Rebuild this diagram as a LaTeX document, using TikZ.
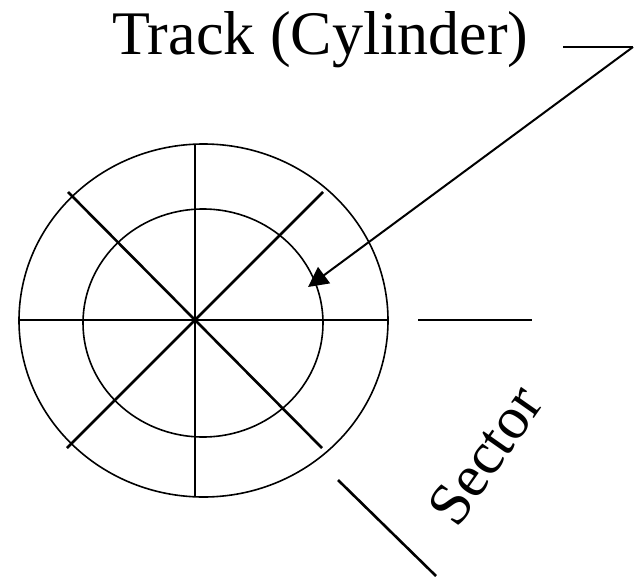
\documentclass[tikz,border=0pt]{standalone}
\usepackage{fontspec}
\setmainfont{Liberation Serif}
\usepackage{tikz}
\usetikzlibrary{arrows.meta, positioning}
\tikzset{
  disk/.style={line width=1.6pt},
  spoke/.style={line width=2.6pt},
  rule/.style={line width=1.6pt},
  txt/.style={inner sep=0pt, font=\fontsize{62}{70}\selectfont},
  pointer/.style={line width=2pt, -{Triangle[length=20pt,width=20pt]}}
}

\begin{document}
\begin{tikzpicture}[x=1pt,y=-1pt]
      \useasboundingbox (0,0) rectangle (634,578);
      \coordinate (c) at (195,320);
      % platter and one track
      \draw[disk] (203.5,320.5) ellipse [x radius=184.5pt, y radius=176.5pt];
      \draw[disk] (203,323) ellipse [x radius=120pt, y radius=114pt];
      \draw[disk] (19,320) -- (388,320);
      \draw[disk] (195,144) -- (195,497);
      \foreach \a/\b in {68/192, 323/192}{
        \draw[spoke] (\a,\b) -- (c) -- ({390-\a},{640-\b});
      }
      \node[txt, anchor=base west] (track) at (112,55) {Track (Cylinder)};
      \coordinate (tl) at (563,47);
      \coordinate (tr) at (633,47);
      \coordinate (tip) at (308,287);
      \draw[rule] (tl) -- (tr);
      \draw[pointer] (tr) -- (tip);
      \draw[rule] (418,320) -- (532,320);
      \draw[spoke] (338,480) -- (436,576);
      \node[txt, font=\fontsize{60}{68}\selectfont, rotate=55] (sector) at (485,455) {Sector};
    \end{tikzpicture}
\end{document}
